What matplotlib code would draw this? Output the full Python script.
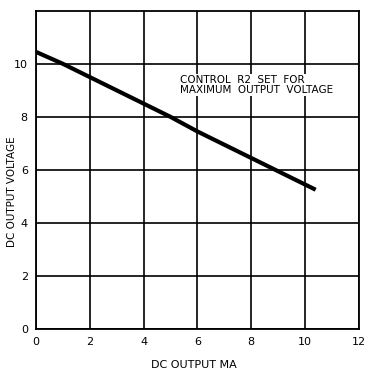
# Curva de tension de salida DC frente a corriente de salida
import matplotlib
matplotlib.use('Agg')
import matplotlib.pyplot as plt

# Datos
corriente_ma = [0, 1, 2, 4, 5, 6, 8, 9, 10.4]
tension_v = [10.45, 10.0, 9.5, 8.5, 8.0, 7.45, 6.45, 5.95, 5.25]
x_ticks = [0, 2, 4, 6, 8, 10, 12]
y_ticks = [0, 2, 4, 6, 8, 10]

fig = plt.figure(figsize=(3.76, 3.75), dpi=100)
ax = fig.add_axes([0.096, 0.123, 0.858, 0.848])

ax.plot(corriente_ma, tension_v, color='black', linewidth=3, solid_capstyle='butt')

ax.set_xlim(0, 12)
ax.set_ylim(0, 12)
ax.set_xticks(x_ticks)
ax.set_yticks(y_ticks)
ax.grid(True, color='black', linewidth=1.2)
ax.tick_params(length=0, labelsize=8, pad=6)
for s in ax.spines.values():
    s.set_linewidth(1.3)

ax.set_xlabel('DC OUTPUT MA', fontsize=8)
ax.set_ylabel('DC OUTPUT VOLTAGE', fontsize=7.5)
ax.xaxis.set_label_coords(0.49, -0.098)
ax.yaxis.set_label_coords(-0.074, 0.43)
ax.yaxis.label.set_va('center')

ax.text(5.35, 9.2, 'CONTROL  R2  SET  FOR\nMAXIMUM  OUTPUT  VOLTAGE', fontsize=7.5,
        va='center', ha='left', linespacing=0.95,
        bbox=dict(facecolor='white', edgecolor='none', pad=1))

plt.savefig('out.png', dpi=100)
